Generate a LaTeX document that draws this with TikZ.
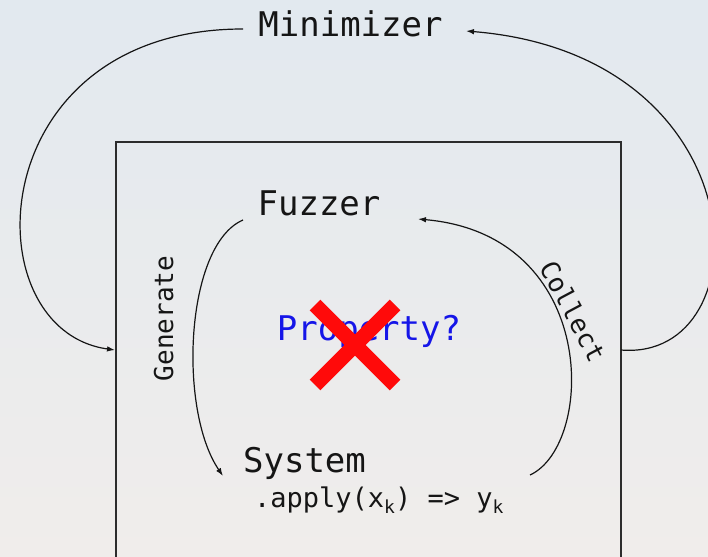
\documentclass[tikz,border=0pt]{standalone}
\usepackage{fontspec}
\newfontfamily\mono{DejaVu Sans Mono}
\usetikzlibrary{arrows.meta}
\definecolor{bgtop}{HTML}{E2E9EF}
\definecolor{bgbot}{HTML}{F0EDEB}
\definecolor{ink}{HTML}{151515}
\definecolor{propblue}{HTML}{1515E8}
\definecolor{crossred}{HTML}{FF0A0A}
\begin{document}
\begin{tikzpicture}[x=1pt,y=-1pt,
  bigtext/.style={font=\mono\fontsize{34}{40}\selectfont,text=ink,inner sep=0pt},
  midtext/.style={font=\mono\fontsize{26}{30}\selectfont,text=ink,inner sep=0pt},
  flow/.style={draw=ink,line width=1.2pt,-{Latex[length=8pt,width=5.5pt]}}]
  % background
  \shade[top color=bgtop,bottom color=bgbot] (0,0) rectangle (708,556);
  \useasboundingbox (0,0) rectangle (708,556);
  \clip (0,0) rectangle (708,556);
  % inner frame (runs past the lower edge)
  \draw[draw=ink!90,line width=1.5pt] (116,600) -- (116,142) -- (621,142) -- (621,600);
  % labels
  \node[bigtext,anchor=base] (mini) at (350.5,37) {Minimizer};
  \node[bigtext,anchor=base] (fuzz) at (319,215) {Fuzzer};
  \node[bigtext,anchor=base,text=propblue] (prop) at (369,340) {Property?};
  \node[bigtext,anchor=base] (sys) at (304.5,472) {System};
  \node[font=\mono\fontsize{27}{30}\selectfont,text=ink,inner sep=0pt,anchor=base west] (apply) at (254,507)
    {.apply(x\raisebox{-6pt}{\fontsize{18}{20}\selectfont k}) => y\raisebox{-6pt}{\fontsize{18}{20}\selectfont k}};
  \node[midtext,anchor=base,rotate=90] (gen) at (173,318.5) {Generate};
  \node[midtext,anchor=center,rotate=-62] (coll) at (573,311) {Collect};
  % connector end points
  \coordinate (mL) at (243,29);
  \coordinate (mR) at (466,31);
  \coordinate (boxL) at (115,350);
  \coordinate (boxR) at (621,350);
  \coordinate (fL) at (243,220);
  \coordinate (fR) at (418,219);
  \coordinate (sL) at (223,476);
  \coordinate (sR) at (530,475);
  % outer loop
  \draw[flow] (mL) .. controls (-20,29) and (-30,330) .. (boxL);
  \draw[flow] (boxR) .. controls (765,362) and (762,55) .. (mR);
  % inner loop
  \draw[flow] (fL) .. controls (185,245) and (178,410) .. (sL);
  \draw[flow] (sR) .. controls (595,445) and (600,235) .. (fR);
  % the cross over the property
  \draw[crossred,line width=15pt] (315,305) -- (395,385);
  \draw[crossred,line width=15pt] (395,305) -- (315,385);
\end{tikzpicture}
\end{document}
